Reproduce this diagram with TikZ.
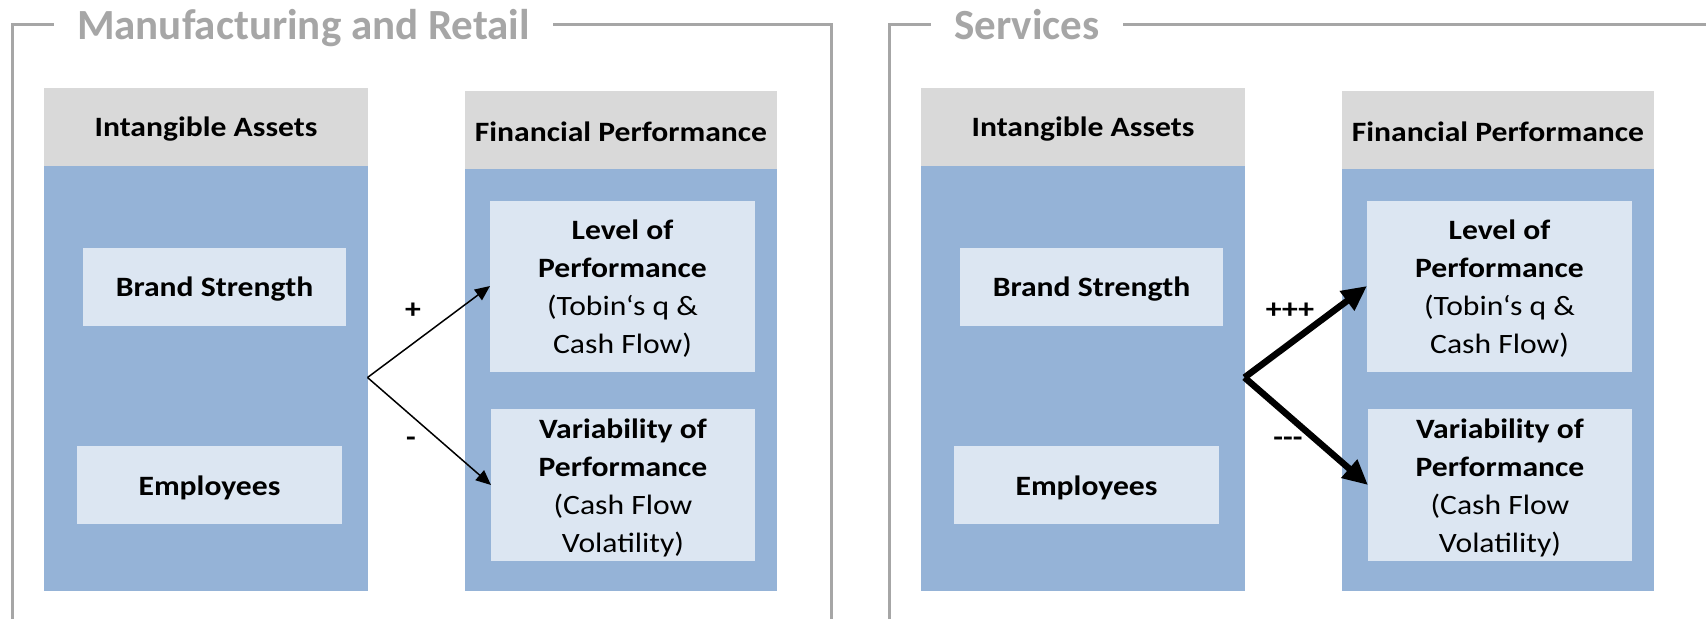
\documentclass[tikz,border=0pt]{standalone}
\usepackage{fontspec}
\setmainfont{Carlito}[FakeStretch=1.13]
\newfontfamily\titlefont{Carlito}
\usetikzlibrary{arrows.meta}

\definecolor{framegray}{HTML}{A6A6A6}
\definecolor{titlegray}{HTML}{A6A6A6}
\definecolor{headgray}{HTML}{D9D9D9}
\definecolor{bodyblue}{HTML}{95B3D7}
\definecolor{itemblue}{HTML}{DCE6F2}

% One panel: #1 name prefix, #2 title, #3 title centre x, #4 arrow style, #5 upper label, #6 lower label
\newcommand{\studypanel}[6]{%
  % open frame with its title set into the top rule
  \draw[frameline] (12,619) -- (12,24.5) -- (831,24.5) -- (831,619);
  \node[paneltitle] (#1title) at (#3,39.5) {#2};
  % intangible assets column
  \node[headbox, sz={324}{78}] (#1iahead) at (206,127) {};
  \node[headtext] at ([yshift=-2pt]#1iahead.center) {Intangible Assets};
  \node[bodybox, sz={324}{425}] (#1iabody) at (206,378.5) {};
  \node[itembox, sz={263}{78}] (#1brand) at (214.5,287) {};
  \node[headtext] at ([yshift=-2.5pt]#1brand.center) {Brand Strength};
  \node[itembox, sz={265}{78}] (#1empl) at (209.5,485) {};
  \node[headtext] at ([yshift=-2.5pt]#1empl.center) {Employees};
  % financial performance column
  \node[headbox, sz={312}{78}] (#1fphead) at (621,130) {};
  \node[headtext] at ([yshift=-2pt]#1fphead.center) {Financial Performance};
  \node[bodybox, sz={312}{422}] (#1fpbody) at (621,380) {};
  \node[itembox, sz={265}{171}] (#1level) at (622.5,286) {};
  \node[bodytext] at ([yshift=-3pt]#1level.center)
    {\textbf{Level of}\\\textbf{Performance}\\(Tobin‘s q \&\\Cash Flow)};
  \node[itembox, sz={264}{152}] (#1var) at (623,485) {};
  \node[bodytext] at ([yshift=-3pt]#1var.center)
    {\textbf{Variability of}\\\textbf{Performance}\\(Cash Flow\\Volatility)};
  % effects
  \coordinate (#1src) at (367.5,377.5);
  \draw[#4] (#1src) -- (#1level.west);
  \draw[#4] (#1src) -- (#1var.west);
  \node[effect] (#1up) at (413,311) {#5};
  \node[effect] (#1down) at (411,442) {#6};
}

\begin{document}
\begin{tikzpicture}[x=1pt,y=-1pt,
  frameline/.style={draw=framegray, line width=3pt},
  paneltitle/.style={anchor=base, fill=white, inner xsep=23pt, inner ysep=4pt,
    text=titlegray, font=\fontsize{43}{50}\titlefont\bfseries},
  sz/.style 2 args={minimum width=#1pt, minimum height=#2pt},
  boxbase/.style={inner sep=0pt, outer sep=0pt},
  headbox/.style={boxbase, fill=headgray},
  bodybox/.style={boxbase, fill=bodyblue},
  itembox/.style={boxbase, fill=itemblue},
  bodytext/.style={inner sep=0pt, align=center, font=\fontsize{28}{38}\selectfont},
  headtext/.style={bodytext, font=\fontsize{28}{38}\selectfont\bfseries},
  effect/.style={font=\fontsize{28}{38}\selectfont\bfseries, inner sep=0pt},
  thinarrow/.style={line width=1.5pt, -{Triangle[length=15pt, width=13pt]}},
  thickarrow/.style={line width=6.5pt, line join=miter,
    -{Triangle[length=25pt, width=23pt]}},
]
\useasboundingbox (0,0) rectangle (1706,619);
\clip (0,0) rectangle (1706,619);

\begin{scope}
  \studypanel{mr}{Manufacturing and Retail}{303.5}{thinarrow}{+}{-}
\end{scope}

\begin{scope}[shift={(877,0)}]
  \studypanel{sv}{Services}{150}{thickarrow}{+++}{{-}{-}{-}}
\end{scope}
\end{tikzpicture}
\end{document}
